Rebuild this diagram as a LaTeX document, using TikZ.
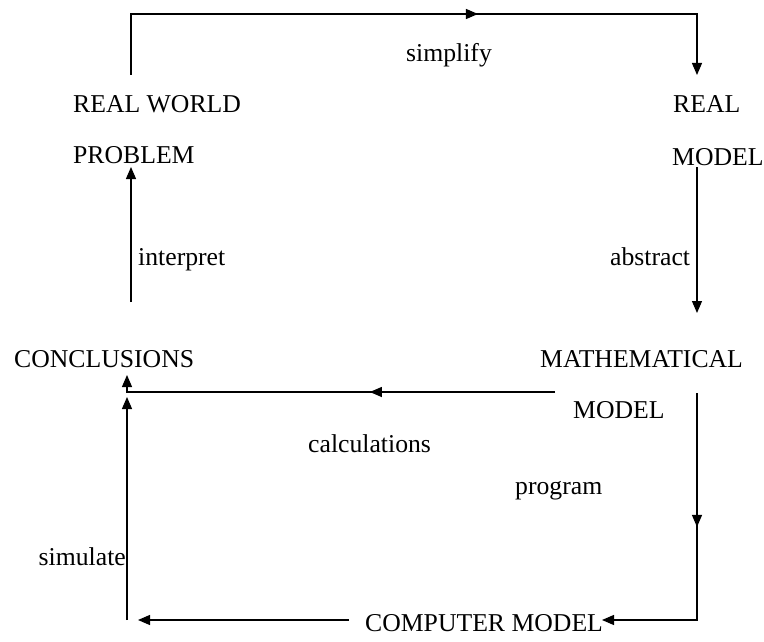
\documentclass[tikz,border=0pt]{standalone}
\usepackage{fontspec}
\setmainfont{Liberation Serif}
\usetikzlibrary{arrows.meta,decorations.markings}
\begin{document}
\begin{tikzpicture}[x=1pt,y=-1pt,
  lbl/.style={anchor=base west,inner sep=0pt,font=\fontsize{25.7}{30}\selectfont},
  conn/.style={line width=1.2pt,line join=miter},
  tip/.style={-{Triangle[length=12pt,width=10pt]}},
  midtip/.style={postaction={decorate},decoration={markings,mark=at position #1 with {\arrow{Triangle[length=12pt,width=10pt]}}}}
]
\useasboundingbox (0,0) rectangle (764,642);
% texts
\node[lbl] (rw)   at (73,113)  {REAL WORLD};
\node[lbl] (prob) at (73,163)  {PROBLEM};
\node[lbl] (real) at (673,113) {REAL};
\node[lbl] (rmod) at (672,165) {MODEL};
\node[lbl] (simp) at (406,62)  {simplify};
\node[lbl] (intp) at (138,265) {interpret};
\node[lbl] (abst) at (610,265) {abstract};
\node[lbl] (conc) at (14,367)  {CONCLUSIONS};
\node[lbl] (math) at (540,367) {MATHEMATICAL};
\node[lbl] (mmod) at (573,418) {MODEL};
\node[lbl] (calc) at (308,452) {calculations};
\node[lbl] (prog) at (515,494) {program};
\node[lbl,anchor=base east] (simu) at (126,565)  {simulate};
\node[lbl] (comp) at (365,631) {COMPUTER MODEL};
% connector end points
\coordinate (t1) at (131,75);
\coordinate (t2) at (697,14);
\coordinate (t3) at (697,75);
\coordinate (i1) at (131,302);
\coordinate (i2) at (131,167);
\coordinate (a1) at (697,167);
\coordinate (a2) at (697,313);
\coordinate (c1) at (555,392);
\coordinate (c2) at (127,392);
\coordinate (c3) at (127,375);
\coordinate (s1) at (127,620);
\coordinate (s2) at (127,397);
\coordinate (p1) at (697,393);
\coordinate (p2) at (697,620);
\coordinate (p3) at (602,620);
\coordinate (b1) at (349,620);
\coordinate (b2) at (138,620);
% connectors
\draw[conn,tip,midtip=0.593] (t1) |- (t2) -- (t3);
\draw[conn,tip] (i1) -- (i2);
\draw[conn,tip] (a1) -- (a2);
\draw[conn,tip,midtip=0.416] (c1) -- (c2) -- (c3);
\draw[conn,tip] (s1) -- (s2);
\draw[conn,tip,midtip=0.416] (p1) -- (p2) -- (p3);
\draw[conn,tip] (b1) -- (b2);
\end{tikzpicture}
\end{document}
